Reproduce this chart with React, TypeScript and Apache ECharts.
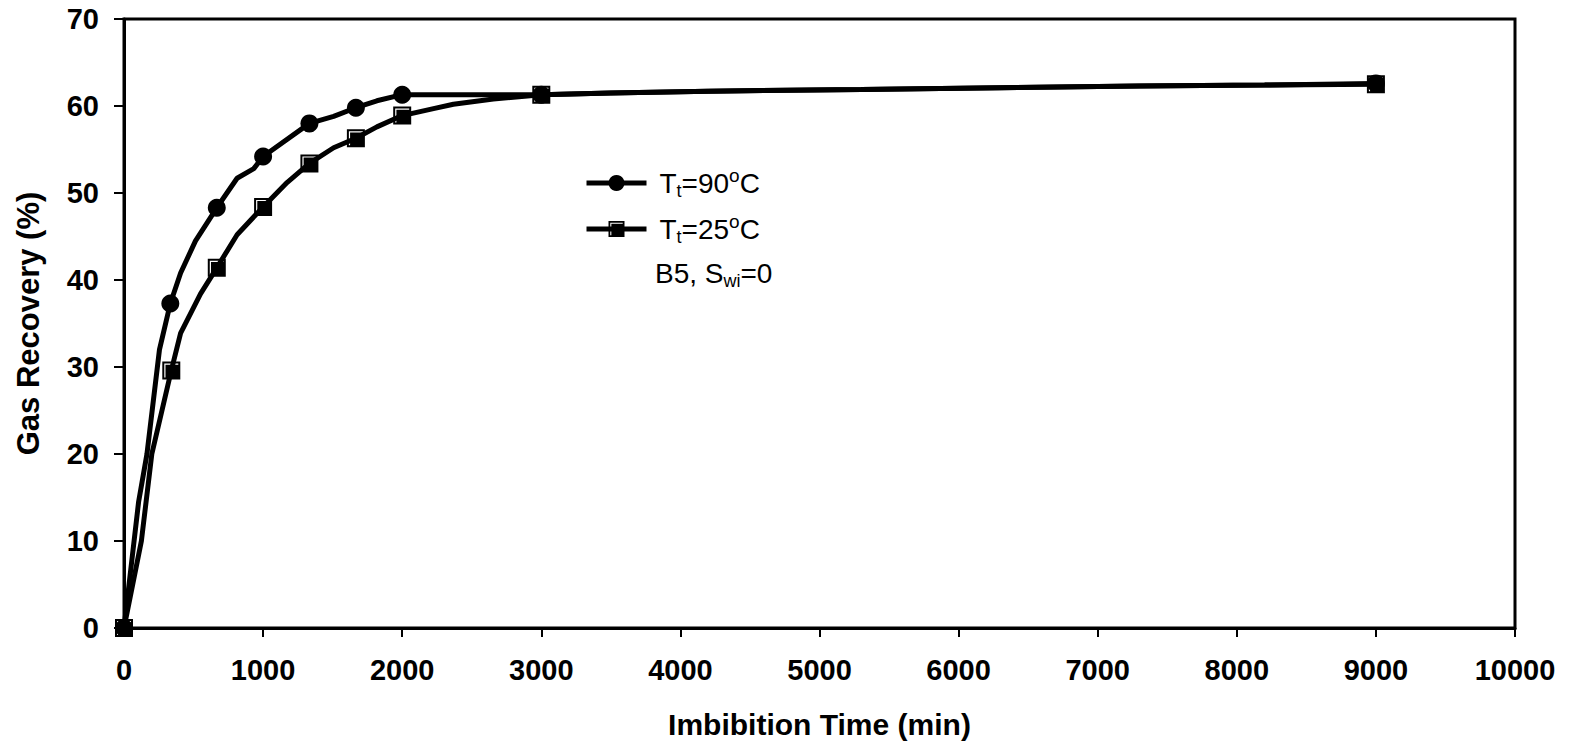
import React, { useEffect, useRef } from 'react';
import * as echarts from 'echarts';

// Imbibition time (min) and gas recovery (%) – Tt = 90 °C
const time90 = [0, 105, 165, 255, 333, 407, 514, 667, 813, 933, 1000, 1333, 1507, 1667, 1818, 2000, 3000, 3500, 4200, 5300, 6300, 7300, 8200, 9000];
const recovery90 = [0, 14.5, 20, 32, 37.3, 40.8, 44.5, 48.3, 51.7, 52.8, 54.2, 58.0, 58.8, 59.8, 60.6, 61.3, 61.3, 61.5, 61.7, 61.9, 62.1, 62.3, 62.4, 62.6];
const markerTimes90 = [0, 333, 667, 1000, 1333, 1667, 2000, 3000, 9000];

// Tt = 25 °C
const time25 = [0, 125, 200, 340, 407, 550, 667, 813, 1000, 1172, 1333, 1507, 1667, 1818, 2000, 2225, 2368, 2655, 3000, 3500, 4200, 5300, 6300, 7300, 8200, 9000];
const recovery25 = [0, 10, 20, 29.6, 33.9, 38.4, 41.4, 45.2, 48.4, 51.2, 53.4, 55.2, 56.3, 57.6, 58.9, 59.7, 60.2, 60.8, 61.3, 61.5, 61.7, 61.9, 62.1, 62.3, 62.4, 62.5];
const markerTimes25 = [0, 340, 667, 1000, 1333, 1667, 2000, 3000, 9000];

const seriesNames = ['T90', 'T25'];
const xMin = 0, xMax = 10000, xStep = 1000;
const yMin = 0, yMax = 70, yStep = 10;

const FONT = '"Liberation Sans", Arial, sans-serif';
const SQUARE = 'path://M0 0H18V18H0Z M2 2V16H3.2V3.2H16V2Z';

function buildData(times: number[], values: number[], markers: number[]) {
  return times.map((t, i) =>
    markers.includes(t) ? { value: [t, values[i]] } : { value: [t, values[i]], symbol: 'none' }
  );
}

const richText = {
  g: { width: 8 },
  n: { fontSize: 28, lineHeight: 34, verticalAlign: 'middle', fontFamily: FONT, color: '#000' },
  s: { fontSize: 18, lineHeight: 17, verticalAlign: 'bottom', fontFamily: FONT, color: '#000' },
  p: { fontSize: 19, lineHeight: 25, verticalAlign: 'top', fontFamily: FONT, color: '#000' },
};

export default function App() {
  const ref = useRef<HTMLDivElement>(null);
  useEffect(() => {
    if (!ref.current) return;
    const chart = echarts.init(ref.current, null, { renderer: 'svg' });
    chart.setOption({
      animation: false,
      backgroundColor: '#fff',
      grid: {
        left: 124, right: 60, top: 19, bottom: 117,
        show: true, borderColor: '#000', borderWidth: 3, backgroundColor: 'transparent',
      },
      xAxis: {
        type: 'value', min: xMin, max: xMax, interval: xStep,
        name: 'Imbibition Time (min)', nameLocation: 'middle', nameGap: 81,
        nameTextStyle: { fontSize: 30, fontWeight: 'bold', fontFamily: FONT, color: '#000' },
        axisLine: { show: true, lineStyle: { color: '#000', width: 3 } },
        axisTick: { show: true, length: 9, lineStyle: { color: '#000', width: 2 } },
        axisLabel: {
          fontSize: 29, fontWeight: 'bold', fontFamily: FONT, color: '#000', margin: 27,
          formatter: (v: number) => String(v),
        },
        splitLine: { show: false },
      },
      yAxis: {
        type: 'value', min: yMin, max: yMax, interval: yStep,
        name: 'Gas Recovery (%)', nameLocation: 'middle', nameGap: 80,
        nameTextStyle: { fontSize: 31, fontWeight: 'bold', fontFamily: FONT, color: '#000' },
        axisLine: { show: true, lineStyle: { color: '#000', width: 3 } },
        axisTick: { show: true, length: 10, lineStyle: { color: '#000', width: 2 } },
        axisLabel: {
          fontSize: 29, fontWeight: 'bold', fontFamily: FONT, color: '#000', margin: 25,
          formatter: (v: number) => String(v),
        },
        splitLine: { show: false },
      },
      legend: {
        orient: 'vertical', left: 579, top: 161, itemWidth: 60, itemHeight: 20, itemGap: 12,
        data: seriesNames, selectedMode: false,
        lineStyle: { width: 5, color: '#000' },
        formatter: (name: string) =>
          name === 'T90' ? '{g|}{n|T}{s|t}{n|=90}{p|o}{n|C}' : '{g|}{n|T}{s|t}{n|=25}{p|o}{n|C}',
        textStyle: { color: '#000', fontFamily: FONT, rich: richText },
      },
      graphic: [
        {
          type: 'text', left: 655, top: 259,
          style: { text: '{n|B5, S}{s|wi}{n|=0}', rich: richText, fill: '#000' },
        },
      ],
      series: [
        {
          name: 'T90', type: 'line', data: buildData(time90, recovery90, markerTimes90),
          symbol: 'circle', symbolSize: 18, showAllSymbol: true,
          lineStyle: { color: '#000', width: 5 }, itemStyle: { color: '#000' },
          z: 2,
        },
        {
          name: 'T25', type: 'line', data: buildData(time25, recovery25, markerTimes25),
          symbol: SQUARE, symbolSize: 18, showAllSymbol: true,
          lineStyle: { color: '#000', width: 5 }, itemStyle: { color: '#000' },
          z: 3,
        },
      ],
    });
    return () => chart.dispose();
  }, []);
  return <div ref={ref} style={{ position: 'fixed', left: 0, top: 0, width: 1575, height: 745, background: '#fff' }} />;
}
